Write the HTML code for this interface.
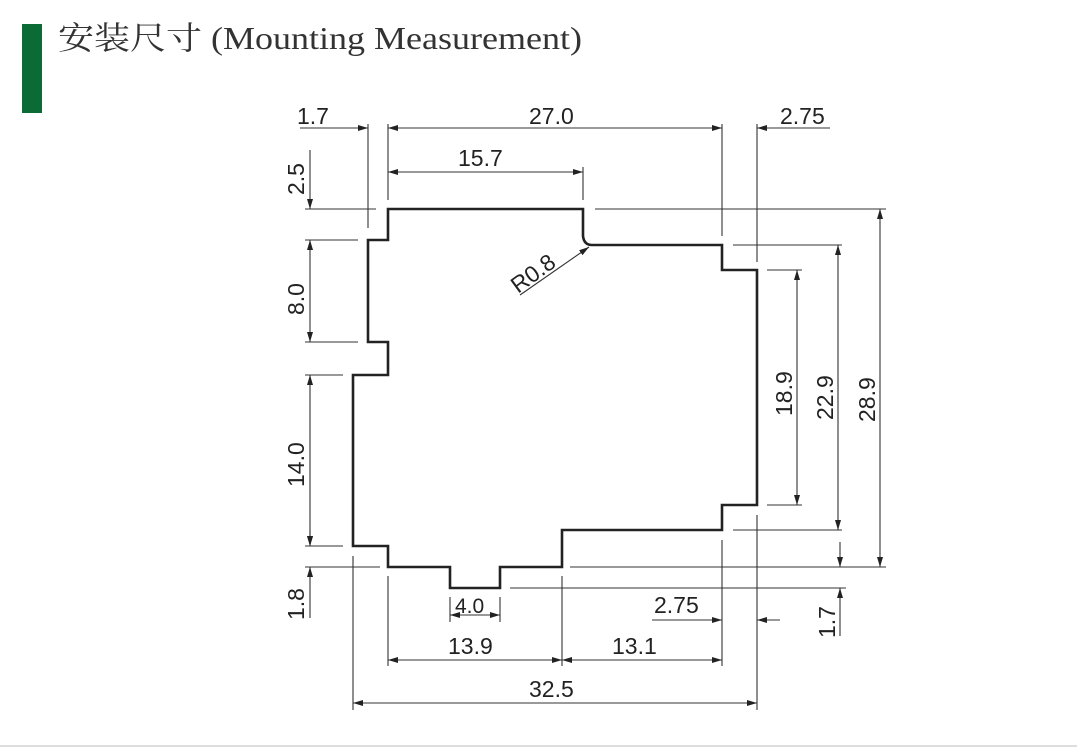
<!DOCTYPE html>
<html><head><meta charset="utf-8"><style>
html,body{margin:0;padding:0;background:#fff;width:1077px;height:751px;overflow:hidden}
svg text{font-family:"Liberation Sans",Arial,sans-serif;fill:#222}
</style></head><body>
<svg width="1077" height="751" viewBox="0 0 1077 751" xmlns="http://www.w3.org/2000/svg">
<defs>
<marker id="a" viewBox="0 0 10 6" refX="10" refY="3" markerWidth="10" markerHeight="6" orient="auto-start-reverse" markerUnits="userSpaceOnUse"><path d="M0,0L10,3L0,6z" fill="#222"/></marker>
</defs>
<rect x="22" y="24" width="20" height="89" fill="#0b6b35"/>
<text x="58" y="49" textLength="524" lengthAdjust="spacingAndGlyphs" style="font-family:'Liberation Serif','Noto Serif CJK SC',serif;font-size:32px;fill:#333">安装尺寸 (Mounting Measurement)</text>
<line x1="0" y1="746" x2="1077" y2="746" stroke="#ddd" stroke-width="2"/>

<path d="M388,209 L583,209 L583,236 Q584,245 592,245 L722,245 L722,270 L757,270 L757,505 L722,505 L722,530 L562,530 L562,567 L500,567 L500,588 L450,588 L450,567 L388,567 L388,546 L353,546 L353,375 L388,375 L388,342 L368,342 L368,240 L388,240 Z" fill="none" stroke="#222" stroke-width="2.6"/>

<g stroke="#333" stroke-width="1.1" fill="none">
<line x1="368" y1="124" x2="368" y2="228"/>
<line x1="388" y1="124" x2="388" y2="200"/>
<line x1="722" y1="124" x2="722" y2="236"/>
<line x1="757" y1="124" x2="757" y2="262"/>
<line x1="583" y1="167" x2="583" y2="200"/>
<line x1="305" y1="209" x2="376" y2="209"/>
<line x1="305" y1="240" x2="358" y2="240"/>
<line x1="305" y1="342" x2="358" y2="342"/>
<line x1="305" y1="375" x2="343" y2="375"/>
<line x1="305" y1="546" x2="343" y2="546"/>
<line x1="305" y1="567" x2="380" y2="567"/>
<line x1="595" y1="209" x2="886" y2="209"/>
<line x1="733" y1="245" x2="842" y2="245"/>
<line x1="767" y1="270" x2="802" y2="270"/>
<line x1="767" y1="505" x2="802" y2="505"/>
<line x1="733" y1="530" x2="842" y2="530"/>
<line x1="570" y1="567" x2="886" y2="567"/>
<line x1="510" y1="588" x2="846" y2="588"/>
<line x1="353" y1="556" x2="353" y2="710"/>
<line x1="388" y1="576" x2="388" y2="666"/>
<line x1="562" y1="576" x2="562" y2="666"/>
<line x1="722" y1="540" x2="722" y2="666"/>
<line x1="757" y1="515" x2="757" y2="710"/>
<line x1="450" y1="597" x2="450" y2="622"/>
<line x1="500" y1="597" x2="500" y2="622"/>
<line x1="300" y1="128" x2="368" y2="128" marker-end="url(#a)"/>
<line x1="388" y1="128" x2="722" y2="128" marker-start="url(#a)" marker-end="url(#a)"/>
<line x1="757" y1="128" x2="830" y2="128" marker-start="url(#a)"/>
<line x1="388" y1="172" x2="583" y2="172" marker-start="url(#a)" marker-end="url(#a)"/>
<line x1="310" y1="150" x2="310" y2="209" marker-end="url(#a)"/>
<line x1="310" y1="240" x2="310" y2="342" marker-start="url(#a)" marker-end="url(#a)"/>
<line x1="310" y1="375" x2="310" y2="546" marker-start="url(#a)" marker-end="url(#a)"/>
<line x1="310" y1="530" x2="310" y2="546" marker-end="url(#a)"/>
<line x1="310" y1="618" x2="310" y2="567" marker-end="url(#a)"/>
<line x1="797" y1="270" x2="797" y2="505" marker-start="url(#a)" marker-end="url(#a)"/>
<line x1="838" y1="245" x2="838" y2="530" marker-start="url(#a)" marker-end="url(#a)"/>
<line x1="880" y1="209" x2="880" y2="567" marker-start="url(#a)" marker-end="url(#a)"/>
<line x1="840" y1="542" x2="840" y2="567" marker-end="url(#a)"/>
<line x1="840" y1="636" x2="840" y2="588" marker-end="url(#a)"/>
<line x1="450" y1="615" x2="500" y2="615" marker-start="url(#a)" marker-end="url(#a)"/>
<line x1="388" y1="660" x2="562" y2="660" marker-start="url(#a)" marker-end="url(#a)"/>
<line x1="562" y1="660" x2="722" y2="660" marker-start="url(#a)" marker-end="url(#a)"/>
<line x1="353" y1="703" x2="757" y2="703" marker-start="url(#a)" marker-end="url(#a)"/>
<line x1="652" y1="620" x2="722" y2="620" marker-end="url(#a)"/>
<line x1="780" y1="620" x2="757" y2="620" marker-end="url(#a)"/>
<line x1="520" y1="295" x2="589" y2="247" marker-end="url(#a)"/>
</g>
<g font-size="23">
<text x="297" y="124">1.7</text>
<text x="529" y="124">27.0</text>
<text x="780" y="124">2.75</text>
<text x="458" y="166">15.7</text>
<text x="455" y="613" font-size="21">4.0</text>
<text x="448" y="654">13.9</text>
<text x="612" y="654">13.1</text>
<text x="529" y="697">32.5</text>
<text x="654" y="613">2.75</text>
<text transform="translate(304,195) rotate(-90)">2.5</text>
<text transform="translate(304,315) rotate(-90)">8.0</text>
<text transform="translate(304,487) rotate(-90)">14.0</text>
<text transform="translate(304,620) rotate(-90)">1.8</text>
<text transform="translate(792,416) rotate(-90)">18.9</text>
<text transform="translate(833,420) rotate(-90)">22.9</text>
<text transform="translate(875,422) rotate(-90)">28.9</text>
<text transform="translate(835,638) rotate(-90)">1.7</text>
<text transform="translate(518,294) rotate(-36)">R0.8</text>
</g>
</svg>
</body></html>
